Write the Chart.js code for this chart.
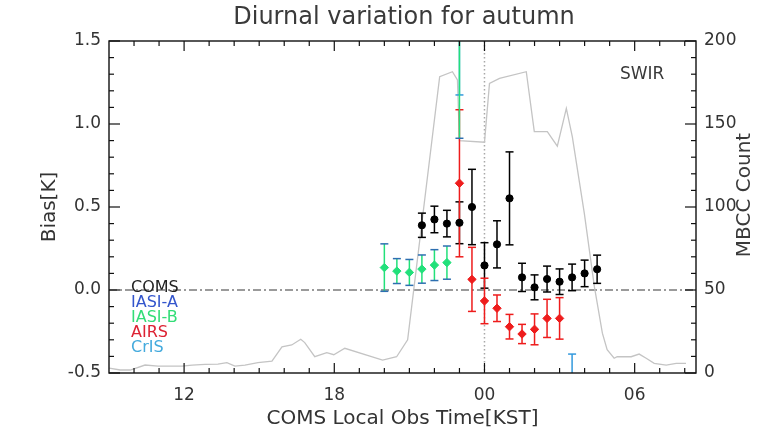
<!DOCTYPE html>
<html>
<head>
<meta charset="utf-8">
<script src="https://cdn.jsdelivr.net/npm/chart.js@4.4.1/dist/chart.umd.min.js"></script>
<style>
html, body { margin: 0; padding: 0; background: #fff; }
</style>
</head>
<body>
<canvas id="myChart" width="771" height="438"></canvas>
<script>
// axis ticks
var xTickVals = [12, 18, 24, 30];
var xTickLabels = ['12', '18', '00', '06'];
var yTickVals = [-0.5, 0, 0.5, 1.0, 1.5];
var y2TickVals = [0, 50, 100, 150, 200];

// MBCC count (grey line, right axis), hours past midnight of the previous day
var countHours = [9.01, 9.45, 9.85, 10.44, 10.96, 11.92, 12.32, 12.84, 13.35, 13.71, 14.03, 14.43, 14.95, 15.51,
  15.91, 16.30, 16.66, 16.82, 17.22, 17.70, 17.98, 18.42, 19.93, 20.49, 20.93, 22.21, 22.72, 22.92, 23.0,
  24.0, 24.2, 24.6, 25.67, 25.99, 26.51, 26.91, 27.27, 27.51, 27.99, 28.39, 28.71, 28.90, 29.18, 29.30,
  29.86, 30.18, 30.46, 30.78, 31.26, 31.66, 32.05];
var countVals = [3, 1.8, 1.8, 4.8, 4.2, 4.2, 4.8, 5.2, 5.4, 6.2, 4.2, 4.8, 6.2, 7.2,
  15.8, 16.9, 20.3, 18.3, 9.8, 12.2, 11.0, 14.9, 7.8, 9.8, 20, 178.5, 181.5, 176.5, 140,
  139, 174.5, 177.5, 181.5, 145.4, 145.4, 136.7, 159.4, 142.3, 96, 52, 24, 14, 8.9, 9.8,
  9.8, 11.4, 8.9, 5.8, 4.8, 5.8, 5.8];

// COMS
var comsHours = [21.5, 22, 22.5, 23, 23.5, 24, 24.5, 25, 25.5, 26, 26.5, 27, 27.5, 28, 28.5];
var comsBias = [0.39, 0.425, 0.40, 0.405, 0.50, 0.148, 0.275, 0.552, 0.076, 0.016, 0.066, 0.05, 0.076, 0.10, 0.125];
var comsErr = [0.073, 0.08, 0.08, 0.126, 0.227, 0.137, 0.142, 0.28, 0.085, 0.075, 0.078, 0.077, 0.08, 0.08, 0.085];

// AIRS
var airsHours = [23, 23.5, 24, 24.5, 25, 25.5, 26, 26.5, 27];
var airsBias = [0.643, 0.064, -0.066, -0.11, -0.221, -0.265, -0.237, -0.171, -0.171];
var airsErr = [0.443, 0.193, 0.137, 0.08, 0.074, 0.058, 0.093, 0.115, 0.125];

// IASI-B
var iasibHours = [20, 20.5, 21, 21.5, 22, 22.5, 23];
var iasibBias = [0.135, 0.114, 0.106, 0.126, 0.15, 0.165, 1.75];
var iasibErr = [0.143, 0.075, 0.078, 0.085, 0.093, 0.1, 0.836];

// CrIS
var crisHours = [23, 27.5];
var crisBias = [1.7, -0.7];
var crisErr = [0.525, 0.314];

var legendNames = ['COMS', 'IASI-A', 'IASI-B', 'AIRS', 'CrIS'];
var legendColors = ['#222222', '#3355cc', '#33dd77', '#dd2233', '#44aadd'];

var FONT = "'DejaVu Sans', sans-serif";

function pts(xs, ys) {
  return xs.map(function(x, i) { return { x: x, y: ys[i] }; });
}

function seg(ctx, x1, y1, x2, y2) {
  ctx.beginPath(); ctx.moveTo(x1, y1); ctx.lineTo(x2, y2); ctx.stroke();
}

// reference lines behind the data
var refLines = {
  id: 'refLines',
  beforeDatasetsDraw: function(chart) {
    var ctx = chart.ctx, a = chart.chartArea;
    var y0 = chart.scales.y.getPixelForValue(0);
    var xm = chart.scales.x.getPixelForValue(24);
    ctx.save();
    ctx.strokeStyle = '#7a7a7a'; ctx.lineWidth = 1.3;
    ctx.setLineDash([8, 3, 2, 3]);
    seg(ctx, a.left, y0, a.right, y0);
    ctx.strokeStyle = '#a8a8a8'; ctx.lineWidth = 1.5;
    ctx.setLineDash([1.5, 2.5]);
    seg(ctx, xm, a.top, xm, a.bottom);
    ctx.restore();
  }
};

// error bars, drawn after the grey count line and before the points
var errorBars = {
  id: 'errorBars',
  afterDatasetDraw: function(chart, args) {
    if (args.index !== 0) return;
    var ctx = chart.ctx, a = chart.chartArea;
    var xs = chart.scales.x, ys = chart.scales.y;
    ctx.save();
    ctx.beginPath(); ctx.rect(a.left, a.top, a.right - a.left, a.bottom - a.top); ctx.clip();
    ctx.lineWidth = 1.5;
    chart.data.datasets.forEach(function(ds) {
      if (!ds.errors) return;
      ds.data.forEach(function(p, i) {
        var e = ds.errors[i];
        var px = xs.getPixelForValue(p.x);
        var top = ys.getPixelForValue(p.y + e), bot = ys.getPixelForValue(p.y - e);
        ctx.strokeStyle = ds.borderColor;
        seg(ctx, px, top, px, bot);
        ctx.strokeStyle = ds.capColor || ds.borderColor;
        seg(ctx, px - 4, top, px + 4, top);
        seg(ctx, px - 4, bot, px + 4, bot);
      });
    });
    ctx.restore();
  }
};

// frame, inward ticks and free texts
var frameAndText = {
  id: 'frameAndText',
  afterDraw: function(chart) {
    var ctx = chart.ctx, a = chart.chartArea;
    var xs = chart.scales.x, ys = chart.scales.y, y2 = chart.scales.y2;
    ctx.save();
    ctx.strokeStyle = '#111'; ctx.lineWidth = 1.4;
    ctx.strokeRect(a.left, a.top, a.right - a.left, a.bottom - a.top);
    ctx.lineWidth = 1.2;
    var h, v, p, len;
    for (h = 10; h <= 32; h++) {
      p = xs.getPixelForValue(h);
      len = (h % 6 === 0) ? 10 : 5;
      seg(ctx, p, a.bottom, p, a.bottom - len);
      seg(ctx, p, a.top, p, a.top + len);
    }
    for (v = -5; v <= 15; v++) {
      p = ys.getPixelForValue(v / 10);
      len = (v % 5 === 0) ? 11 : 5;
      seg(ctx, a.left, p, a.left + len, p);
    }
    for (v = 0; v <= 200; v += 10) {
      p = y2.getPixelForValue(v);
      len = (v % 50 === 0) ? 11 : 5;
      seg(ctx, a.right, p, a.right - len, p);
    }

    ctx.fillStyle = '#3a3a3a';
    ctx.textBaseline = 'middle';
    ctx.textAlign = 'center';
    ctx.font = '24px ' + FONT;
    ctx.fillText('Diurnal variation for autumn', 404, 18);

    ctx.textAlign = 'left';
    ctx.font = '17px ' + FONT;
    ctx.fillText('SWIR', 620, 75);

    ctx.font = '16px ' + FONT;
    legendNames.forEach(function(n, i) {
      ctx.fillStyle = legendColors[i];
      ctx.fillText(n, 131, 288 + i * 15);
    });

    ctx.fillStyle = '#3a3a3a';
    ctx.font = '20px ' + FONT;
    ctx.translate(745, 195);
    ctx.rotate(-Math.PI / 2);
    ctx.textAlign = 'center';
    ctx.fillText('MBCC Count', 0, 0);
    ctx.restore();
  }
};

var tickFont = { family: FONT, size: 17 };

var ctx = document.getElementById('myChart').getContext('2d');
var myChart = new Chart(ctx, {
  type: 'scatter',
  data: {
    datasets: [{
      label: 'MBCC Count',
      data: pts(countHours, countVals),
      yAxisID: 'y2',
      showLine: true,
      borderColor: '#c4c4c4',
      borderWidth: 1.3,
      pointRadius: 0,
      order: 10,
      clip: 0
    }, {
      label: 'COMS',
      data: pts(comsHours, comsBias),
      errors: comsErr,
      borderColor: '#000000',
      backgroundColor: '#000000',
      pointStyle: 'circle',
      pointRadius: 3.6,
      clip: 0
    }, {
      label: 'AIRS',
      data: pts(airsHours, airsBias),
      errors: airsErr,
      borderColor: '#ee1c1c',
      backgroundColor: '#ee1c1c',
      pointStyle: 'rectRot',
      pointRadius: 4.2,
      clip: 0
    }, {
      label: 'CrIS',
      data: pts(crisHours, crisBias),
      errors: crisErr,
      borderColor: '#3399dd',
      backgroundColor: '#3399dd',
      pointStyle: 'rectRot',
      pointRadius: 4.2,
      clip: 0
    }, {
      label: 'IASI-B',
      data: pts(iasibHours, iasibBias),
      errors: iasibErr,
      borderColor: '#22e07a',
      backgroundColor: '#22e07a',
      capColor: '#2d6fb0',
      pointStyle: 'rectRot',
      pointRadius: 4.2,
      clip: 0
    }]
  },
  options: {
    responsive: false,
    animation: false,
    layout: { padding: { top: 41, left: 0, right: 0, bottom: 0 } },
    plugins: {
      legend: { display: false },
      tooltip: { enabled: false },
      title: { display: false }
    },
    scales: {
      x: {
        type: 'linear',
        position: 'bottom',
        min: 9,
        max: 32.45,
        afterBuildTicks: function(s) { s.ticks = xTickVals.map(function(v) { return { value: v }; }); },
        afterFit: function(s) { s.height = 65; },
        ticks: {
          autoSkip: false, maxRotation: 0, padding: 12, color: '#333', font: tickFont,
          callback: function(v) { return xTickLabels[xTickVals.indexOf(v)]; }
        },
        grid: { display: false, drawTicks: false },
        border: { display: false },
        title: {
          display: true, text: 'COMS Local Obs Time[KST]', color: '#333',
          font: { family: FONT, size: 20 }, padding: { top: 0, bottom: 7 }
        }
      },
      y: {
        position: 'left',
        min: -0.5,
        max: 1.5,
        afterBuildTicks: function(s) { s.ticks = yTickVals.map(function(v) { return { value: v }; }); },
        afterFit: function(s) { s.width = 109; },
        ticks: {
          padding: 8, color: '#333', font: tickFont,
          callback: function(v) { return v.toFixed(1); }
        },
        grid: { display: false, drawTicks: false },
        border: { display: false },
        title: {
          display: true, text: 'Bias[K]', color: '#333',
          font: { family: FONT, size: 20 }, padding: { top: 38, bottom: 0 }
        }
      },
      y2: {
        position: 'right',
        min: 0,
        max: 200,
        afterBuildTicks: function(s) { s.ticks = y2TickVals.map(function(v) { return { value: v }; }); },
        afterFit: function(s) { s.width = 75; },
        ticks: { padding: 8, color: '#333', font: tickFont },
        grid: { display: false, drawTicks: false },
        border: { display: false }
      }
    }
  },
  plugins: [refLines, errorBars, frameAndText]
});
</script>
</body>
</html>
